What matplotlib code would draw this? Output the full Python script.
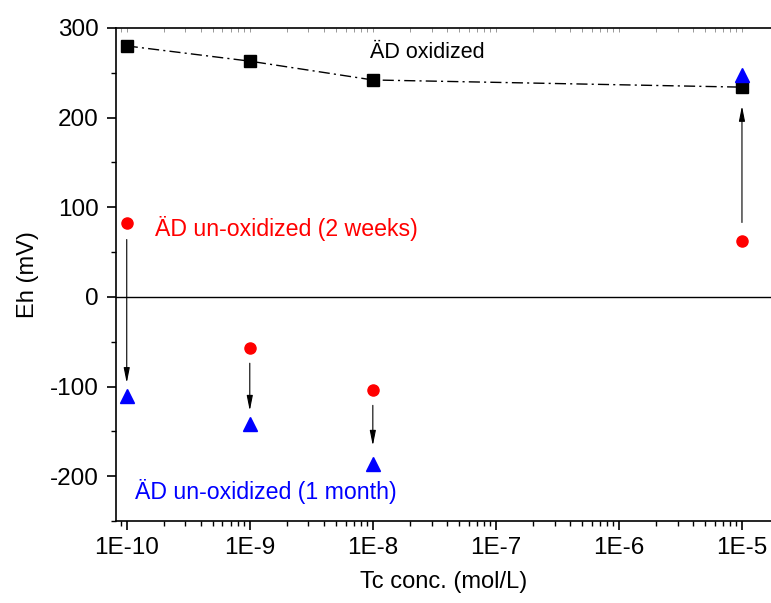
import numpy as np
import matplotlib.pyplot as plt
from matplotlib.ticker import LogLocator, MultipleLocator, FixedLocator, NullFormatter

plt.rcParams['font.family'] = ['Liberation Sans', 'DejaVu Sans']
plt.rcParams['axes.unicode_minus'] = False

# Tc 浓度 (mol/L) 及 Eh (mV)
conc = [1e-10, 1e-9, 1e-8, 1e-5]
eh_oxidized = [280, 263, 242, 234]
eh_2weeks = [82, -57, -104, 62]
eh_1month = [-111, -142, -186, 247]

# 箭头起止 (mV)
arrow_start = [64, -74, -121, 83]
arrow_end = [-96, -127, -166, 213]

xtick_vals = [1e-10, 1e-9, 1e-8, 1e-7, 1e-6, 1e-5]
xtick_labels = ['1E-10', '1E-9', '1E-8', '1E-7', '1E-6', '1E-5']

fig = plt.figure(figsize=(7.71, 6.03), dpi=100)
ax = fig.add_axes([0.1505, 0.136, 0.8495, 0.8176])

ax.axhline(0, color='black', lw=1.0, zorder=1)

ax.plot(conc, eh_oxidized, color='black', lw=1.0, linestyle=(0, (8, 3, 1.5, 3)),
        marker='s', markersize=8.5, zorder=3)
ax.plot(conc, eh_2weeks, linestyle='none', marker='o', color='#ff0000',
        markersize=8, zorder=3)
ax.plot(conc, eh_1month, linestyle='none', marker='^', color='#0000ff',
        markersize=9.5, zorder=3)

for c, y0, y1 in zip(conc, arrow_start, arrow_end):
    ax.annotate('', xy=(c, y1), xytext=(c, y0),
                arrowprops=dict(arrowstyle='-|>,head_width=0.18,head_length=0.9',
                                color='black', lw=0.8, shrinkA=0, shrinkB=0))

ax.text(9.5e-9, 273, 'ÄD oxidized', fontsize=15.5, color='black', va='center')
ax.text(1.7e-10, 76, 'ÄD un-oxidized (2 weeks)', fontsize=16.7, color='#ff0000', va='center')
ax.text(1.17e-10, -217, 'ÄD un-oxidized (1 month)', fontsize=16.7, color='#0000ff', va='center')

ax.set_xscale('log')
ax.set_xlim(10 ** -10.087, 10 ** -4.764)
ax.set_ylim(-250, 300)

ax.xaxis.set_major_locator(FixedLocator(xtick_vals))
ax.set_xticklabels(xtick_labels)
ax.xaxis.set_minor_locator(LogLocator(base=10, subs=np.arange(2, 10), numticks=20))
ax.xaxis.set_minor_formatter(NullFormatter())
ax.yaxis.set_major_locator(MultipleLocator(100))
ax.yaxis.set_minor_locator(MultipleLocator(50))

ax.tick_params(which='major', direction='out', length=6.5, width=1.2, labelsize=17.5)
ax.tick_params(which='minor', direction='out', length=3.5, width=1.0)
ax.tick_params(axis='x', pad=5)
ax.tick_params(axis='y', pad=6)

for side in ['left', 'bottom', 'top']:
    ax.spines[side].set_linewidth(1.2)
ax.spines['right'].set_visible(False)

# 顶部镜像刻度
top = ax.secondary_xaxis('top')
top.xaxis.set_major_locator(FixedLocator(xtick_vals))
top.xaxis.set_minor_locator(LogLocator(base=10, subs=np.arange(2, 10), numticks=20))
top.tick_params(which='both', direction='in', length=3, width=0.6, colors='#888888',
                labeltop=False)
top.spines['top'].set_visible(False)

ax.set_xlabel('Tc conc. (mol/L)', fontsize=17, labelpad=9)
ax.set_ylabel('Eh (mV)', fontsize=17, labelpad=8)

fig.savefig('out.png', dpi=100)
